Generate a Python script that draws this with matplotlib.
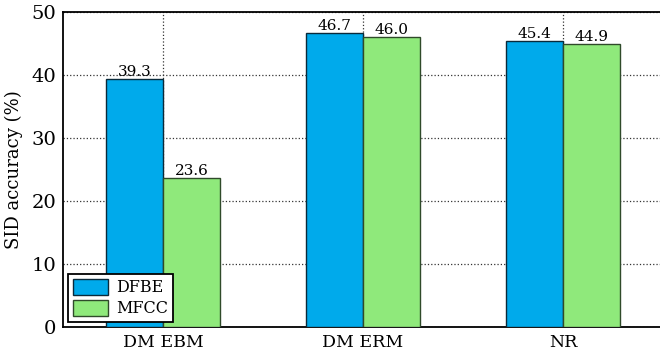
import numpy as np
import matplotlib.pyplot as plt

plt.rcParams['font.family'] = ['DejaVu Serif']

systems = ['DM EBM', 'DM ERM', 'NR']
dfbe = [39.3, 46.7, 45.4]
mfcc = [23.6, 46.0, 44.9]

fig = plt.figure(figsize=(6.6, 3.58), dpi=100)
ax = fig.add_axes([63 / 660, 1 - 327 / 358, 600 / 660, 315 / 358])

x = np.arange(len(systems))
w = 0.285
b1 = ax.bar(x - w / 2, dfbe, w, color='#00AAEB', edgecolor='#0a2a3a', linewidth=1, label='DFBE', zorder=3)
b2 = ax.bar(x + w / 2, mfcc, w, color='#8FE97B', edgecolor='#2f4a2a', linewidth=1, label='MFCC', zorder=3)

for bars, vals in ((b1, dfbe), (b2, mfcc)):
    for rect, v in zip(bars, vals):
        ax.text(rect.get_x() + rect.get_width() / 2, v, f'{v:.1f}',
                ha='center', va='bottom', fontsize=11, zorder=4)

ax.set_xlim(-0.5, 2.5)
ax.set_ylim(0, 50)
ax.set_xticks(x)
ax.set_xticklabels(systems, fontsize=12.5)
ax.set_yticks(np.arange(0, 51, 10))
ax.tick_params(axis='y', labelsize=14, length=0, pad=5)
ax.tick_params(axis='x', length=0, pad=5)
ax.set_ylabel('SID accuracy (%)', fontsize=13, labelpad=6)
ax.grid(True, linestyle=':', color='#333333', linewidth=0.9, zorder=0)
for s in ax.spines.values():
    s.set_linewidth(1.3)

leg = ax.legend(loc='lower left', fontsize=11.5, fancybox=False, edgecolor='black',
                framealpha=1, borderaxespad=0.3, handlelength=2.2, handleheight=1.1,
                borderpad=0.3, labelspacing=0.25, handletextpad=0.5)
leg.get_frame().set_linewidth(1.3)

fig.savefig('out.png', dpi=100)
